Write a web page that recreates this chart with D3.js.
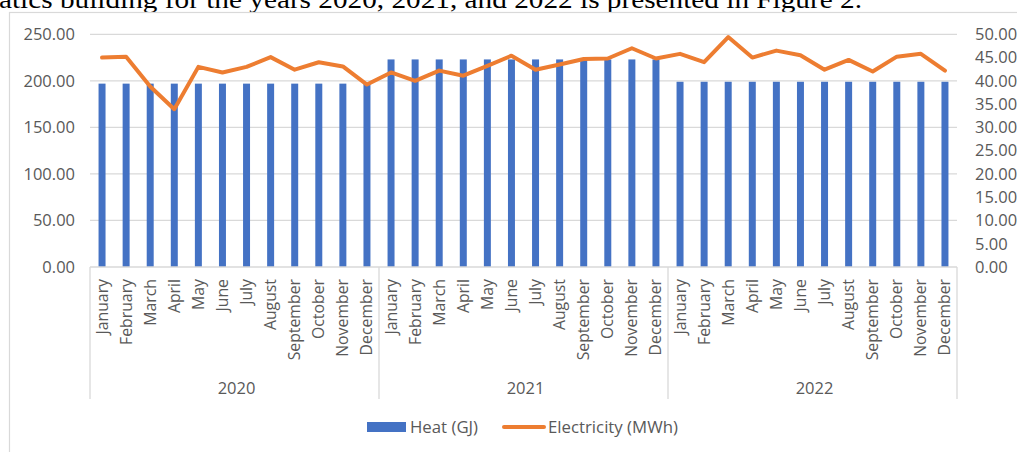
<!DOCTYPE html>
<html>
<head>
<meta charset="utf-8">
<script src="https://cdn.jsdelivr.net/npm/d3@7"></script>
<style>
  body { margin: 0; background: #ffffff; }
  svg { display: block; }
</style>
</head>
<body>
<div id="chart"></div>
<script>
// Frame and plot area
const FRAME_WIDTH = 1017;
const FRAME_HEIGHT = 452;
const PLOT = {left: 90, right: 957, top: 34.3, bottom: 267};

// Data
const years = ["2020", "2021", "2022"];
const months = ["January", "February", "March", "April", "May", "June", "July",
                "August", "September", "October", "November", "December"];
const heat = [197, 197, 197, 197, 197, 197, 197, 197, 197, 197, 197, 197,
              223, 223, 223, 223, 223, 223, 223, 223, 223, 223, 223, 223,
              199, 199, 199, 199, 199, 199, 199, 199, 199, 199, 199, 199];
const electricity = [45.0, 45.2, 38.8, 33.9, 43.0, 41.8, 43.0, 45.1, 42.4, 44.0, 43.1, 39.2,
                     41.8, 40.0, 42.2, 41.1, 43.2, 45.4, 42.4, 43.5, 44.7, 44.8, 47.0, 44.8,
                     45.8, 44.0, 49.4, 45.0, 46.5, 45.5, 42.4, 44.5, 42.0, 45.2, 45.8, 42.2];
const leftTicks = [0, 50, 100, 150, 200, 250];
const rightTicks = [0, 5, 10, 15, 20, 25, 30, 35, 40, 45, 50];

// Colours
const BLUE = "#4472C4";
const ORANGE = "#ED7D31";
const GRID = "#d9d9d9";
const TEXT = "#595959";
const FONT = "'Open Sans', sans-serif";

// one record per month
const rows = [];
years.forEach((y, yi) => {
    months.forEach((m, mi) => {
        const i = yi * 12 + mi;
        rows.push({key: y + "-" + m, year: y, month: m, heat: heat[i], elec: electricity[i]});
    });
});

const FRAME = d3.select("#chart")
    .append("svg")
        .attr("width", FRAME_WIDTH)
        .attr("height", FRAME_HEIGHT);

// cut-off paragraph line above the chart (the page is stretched sideways)
FRAME.append("text")
    .attr("x", -1)
    .attr("y", 7.5)
    .attr("font-family", "'Liberation Serif', 'Times New Roman', serif")
    .attr("font-size", 25)
    .attr("fill", "#000")
    .attr("textLength", 863)
    .attr("lengthAdjust", "spacingAndGlyphs")
    .text("atics building for the years 2020, 2021, and 2022 is presented in Figure 2.");

// chart border (runs off the right and bottom edge)
FRAME.append("rect")
    .attr("x", 9.5)
    .attr("y", 12.5)
    .attr("width", 1020)
    .attr("height", 460)
    .attr("fill", "none")
    .attr("stroke", GRID)
    .attr("stroke-width", 1.2);

// scales
const X = d3.scaleBand()
    .domain(rows.map(d => d.key))
    .range([PLOT.left, PLOT.right])
    .paddingInner(0.71)
    .paddingOuter(0.355);

const Y_LEFT = d3.scaleLinear()
    .domain([0, 250])
    .range([PLOT.bottom, PLOT.top]);

const Y_RIGHT = d3.scaleLinear()
    .domain([0, 50])
    .range([PLOT.bottom, PLOT.top]);

// gridlines
FRAME.append("g")
    .selectAll("line")
    .data(leftTicks.slice(1))
    .enter()
    .append("line")
        .attr("x1", PLOT.left)
        .attr("x2", PLOT.right)
        .attr("y1", d => Y_LEFT(d))
        .attr("y2", d => Y_LEFT(d))
        .attr("stroke", GRID)
        .attr("stroke-width", 1.3);

// left axis
const leftAxis = FRAME.append("g")
    .attr("transform", "translate(" + (PLOT.left - 15) + ",0)")
    .call(d3.axisLeft(Y_LEFT).tickValues(leftTicks).tickFormat(d3.format(".2f")).tickSize(0).tickPadding(0));
leftAxis.select(".domain").remove();

// right axis
const rightAxis = FRAME.append("g")
    .attr("transform", "translate(" + (PLOT.right + 18) + ",0)")
    .call(d3.axisRight(Y_RIGHT).tickValues(rightTicks).tickFormat(d3.format(".2f")).tickSize(0).tickPadding(0));
rightAxis.select(".domain").remove();

FRAME.selectAll(".tick text")
    .attr("font-family", FONT)
    .attr("font-size", 16.5)
    .attr("fill", TEXT);

// bars
FRAME.append("g")
    .selectAll("rect")
    .data(rows)
    .enter()
    .append("rect")
        .attr("x", d => X(d.key))
        .attr("y", d => Y_LEFT(d.heat))
        .attr("width", X.bandwidth())
        .attr("height", d => Y_LEFT(0) - Y_LEFT(d.heat))
        .attr("fill", BLUE);

// category axis line
FRAME.append("line")
    .attr("x1", PLOT.left)
    .attr("x2", PLOT.right)
    .attr("y1", PLOT.bottom)
    .attr("y2", PLOT.bottom)
    .attr("stroke", GRID)
    .attr("stroke-width", 1.3);

// year separators
const step = X.step();
const yearEdges = d3.range(years.length + 1).map(i => PLOT.left + i * 12 * step);
FRAME.append("g")
    .selectAll("line")
    .data(yearEdges)
    .enter()
    .append("line")
        .attr("x1", d => d)
        .attr("x2", d => d)
        .attr("y1", PLOT.bottom)
        .attr("y2", 399)
        .attr("stroke", GRID)
        .attr("stroke-width", 1.3);

// month labels, rotated
FRAME.append("g")
    .selectAll("text")
    .data(rows)
    .enter()
    .append("text")
        .attr("transform", d => "translate(" + (X(d.key) + X.bandwidth() / 2 + 5.5) + "," + (PLOT.bottom + 12) + ") rotate(-90)")
        .attr("text-anchor", "end")
        .attr("font-family", FONT)
        .attr("font-size", 15.8)
        .attr("fill", TEXT)
        .text(d => d.month);

// year labels
FRAME.append("g")
    .selectAll("text")
    .data(years)
    .enter()
    .append("text")
        .attr("x", (d, i) => (yearEdges[i] + yearEdges[i + 1]) / 2 + 2)
        .attr("y", 393.5)
        .attr("text-anchor", "middle")
        .attr("font-family", FONT)
        .attr("font-size", 16.5)
        .attr("fill", TEXT)
        .text(d => d);

// electricity line
const line = d3.line()
    .x(d => X(d.key) + X.bandwidth() / 2)
    .y(d => Y_RIGHT(d.elec));

FRAME.append("path")
    .datum(rows)
    .attr("d", line)
    .attr("fill", "none")
    .attr("stroke", ORANGE)
    .attr("stroke-width", 4)
    .attr("stroke-linejoin", "round")
    .attr("stroke-linecap", "round");

// legend
const LEGEND = FRAME.append("g").attr("transform", "translate(0,427)");
LEGEND.append("rect")
    .attr("x", 367)
    .attr("y", -5)
    .attr("width", 39)
    .attr("height", 10)
    .attr("fill", BLUE);
LEGEND.append("text")
    .attr("x", 410)
    .attr("y", 6)
    .attr("font-family", FONT)
    .attr("font-size", 16.8)
    .attr("fill", TEXT)
    .text("Heat (GJ)");
LEGEND.append("line")
    .attr("x1", 504)
    .attr("x2", 544)
    .attr("y1", 0)
    .attr("y2", 0)
    .attr("stroke", ORANGE)
    .attr("stroke-width", 4)
    .attr("stroke-linecap", "round");
LEGEND.append("text")
    .attr("x", 548)
    .attr("y", 6)
    .attr("font-family", FONT)
    .attr("font-size", 16.8)
    .attr("fill", TEXT)
    .text("Electricity (MWh)");
</script>
</body>
</html>
